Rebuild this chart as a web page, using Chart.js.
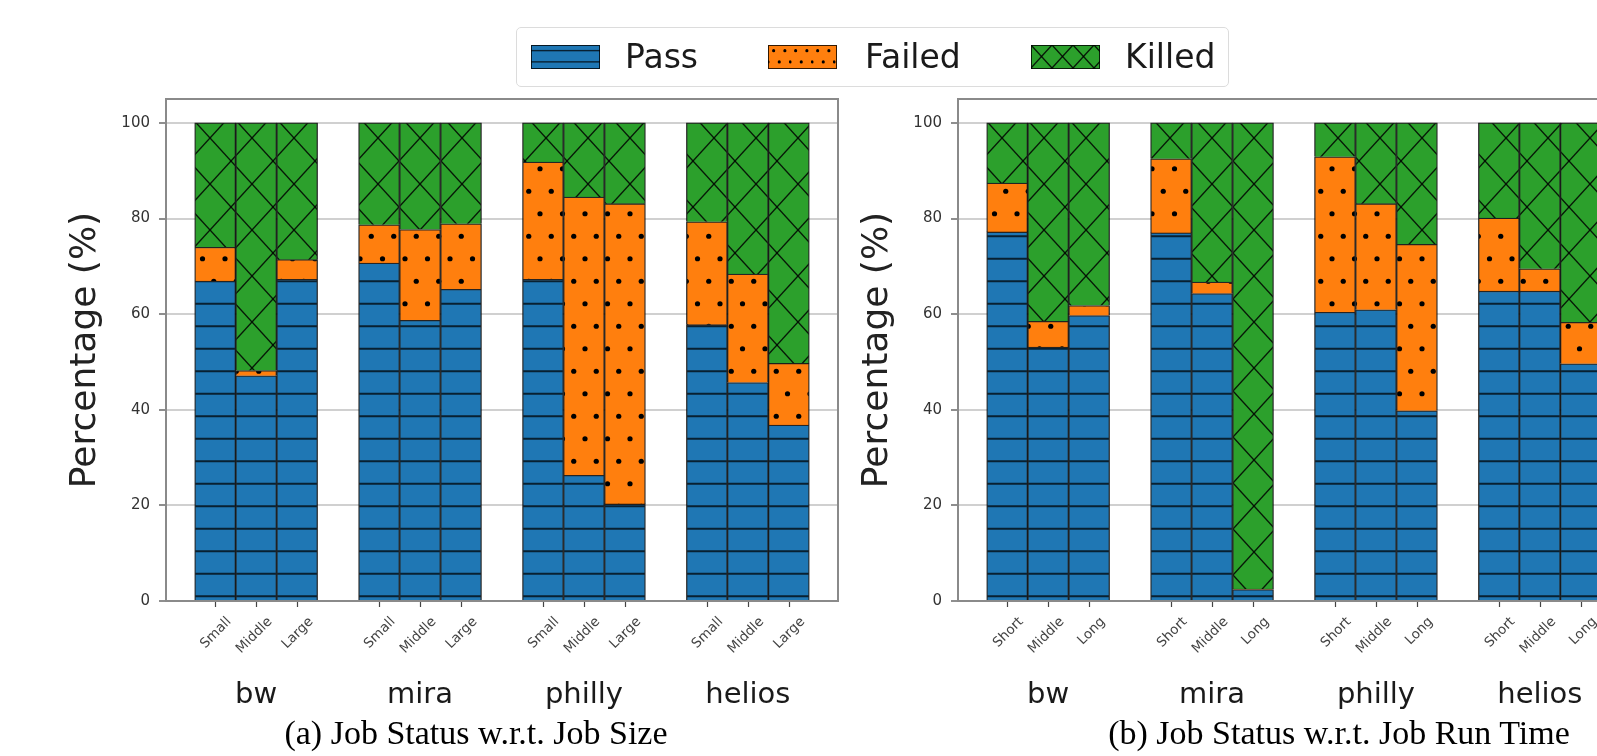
<!DOCTYPE html>
<html>
<head>
<meta charset="utf-8">
<script src="https://cdn.jsdelivr.net/npm/chart.js@4.4.1/dist/chart.umd.min.js"></script>
<style>
  html, body { margin: 0; padding: 0; background: #fff; overflow: hidden; width: 1597px; height: 756px; }
  body { position: relative; }
  #left, #right { position: absolute; top: 0; }
  #left { left: 0; }
  #right { left: 792px; }
  .legend { position: absolute; left: 516px; top: 27px; width: 713px; height: 60px; box-sizing: border-box;
            border: 1px solid #dcdcdc; border-radius: 5px; background: #fff; }
  .legend canvas { position: absolute; top: 17px; }
  .legend span { position: absolute; top: 0; font: 33px "DejaVu Sans"; line-height: 58px; color: #1a1a1a; }
  .sub { position: absolute; top: 713px; font: 34px "Liberation Serif"; line-height: 40px; color: #000;
         white-space: nowrap; transform: translateX(-50%); }
</style>
</head>
<body>
<canvas id="left" width="880" height="756"></canvas>
<canvas id="right" width="880" height="756"></canvas>
<div class="legend">
  <canvas id="lgPass" width="69" height="24" style="left:14px"></canvas><span style="left:108px">Pass</span>
  <canvas id="lgFailed" width="69" height="24" style="left:251px"></canvas><span style="left:348px">Failed</span>
  <canvas id="lgKilled" width="69" height="24" style="left:514px"></canvas><span style="left:608px">Killed</span>
</div>
<div class="sub" style="left:476px">(a) Job Status w.r.t. Job Size</div>
<div class="sub" style="left:1339px">(b) Job Status w.r.t. Job Run Time</div>
<script>
const groups = ['bw', 'mira', 'philly', 'helios'];
const sizeLabels = ['Small', 'Middle', 'Large'];
const timeLabels = ['Short', 'Middle', 'Long'];
const yTicks = [0, 20, 40, 60, 80, 100];

// (a) job size: bw S/M/L, mira S/M/L, philly S/M/L, helios S/M/L  (percent)
const sizePass   = [66.9, 47.1, 67.3, 70.7, 58.7, 65.2, 67.3, 26.3, 20.3, 57.8, 45.7, 36.8];
const sizeFailed = [7.1, 1.1, 4.1, 8.0, 19.0, 13.7, 24.5, 58.2, 62.8, 21.5, 22.7, 12.9];
const sizeKilled = [26.0, 51.8, 28.6, 21.3, 22.3, 21.1, 8.2, 15.5, 16.9, 20.7, 31.6, 50.3];

// (b) job run time: Short/Middle/Long per cluster
const timePass   = [77.2, 53.1, 59.7, 77.0, 64.3, 2.4, 60.4, 60.9, 39.8, 64.8, 64.8, 49.6];
const timeFailed = [10.2, 5.4, 2.1, 15.5, 2.4, 0.1, 32.5, 22.2, 34.8, 15.3, 4.7, 8.7];
const timeKilled = [12.6, 41.5, 38.2, 7.5, 33.3, 97.5, 7.1, 16.9, 25.4, 19.9, 30.5, 41.7];

// slot index on the x axis: 3 bars per cluster, one empty slot between clusters
const slots = [];
groups.forEach((g, gi) => [0, 1, 2].forEach(k => slots.push(gi * 4 + k)));

// matplotlib-like hatches: '-' , '.' , 'x'
function hatch(ctx, kind, k) {
  const c = document.createElement('canvas');
  const p = c.getContext('2d');
  if (kind === 'pass') {
    c.width = 45 * k; c.height = 45 * k;
    p.fillStyle = '#1f77b4'; p.fillRect(0, 0, c.width, c.height);
    p.strokeStyle = 'rgba(0,0,0,0.72)'; p.lineWidth = 2 * Math.max(k, 0.7);
    [11.25, 33.75].forEach(y => { p.beginPath(); p.moveTo(0, y * k); p.lineTo(c.width, y * k); p.stroke(); });
  } else if (kind === 'failed') {
    c.width = 45 * k; c.height = 45 * k;
    p.fillStyle = '#ff7f0e'; p.fillRect(0, 0, c.width, c.height);
    p.fillStyle = '#000';
    const dots = [[11.25, 11.25], [33.75, 11.25], [0, 33.75], [22.5, 33.75], [45, 33.75]];
    dots.forEach(([x, y]) => { p.beginPath(); p.arc(x * k, y * k, 2.6 * Math.max(k, 0.6), 0, Math.PI * 2); p.fill(); });
  } else {
    const w = 42 * k, h = 46 * k;
    c.width = w; c.height = h;
    p.fillStyle = '#2ca02c'; p.fillRect(0, 0, w, h);
    p.strokeStyle = 'rgba(0,0,0,0.85)'; p.lineWidth = 1.4;
    [-w, 0, w].forEach(dx => {
      p.beginPath(); p.moveTo(dx, 0); p.lineTo(dx + w, h); p.stroke();
      p.beginPath(); p.moveTo(dx + w, 0); p.lineTo(dx, h); p.stroke();
    });
  }
  return ctx.createPattern(c, 'repeat');
}

// legend patches
[['lgPass', 'pass'], ['lgFailed', 'failed'], ['lgKilled', 'killed']].forEach(([id, kind]) => {
  const cv = document.getElementById(id);
  const cx = cv.getContext('2d');
  cx.fillStyle = hatch(cx, kind, 0.5);
  cx.fillRect(0, 0, cv.width, cv.height);
  cx.strokeStyle = 'rgba(0,0,0,0.8)'; cx.lineWidth = 1;
  cx.strokeRect(0.5, 0.5, cv.width - 1, cv.height - 1);
});

const framePlugin = {
  id: 'frame',
  afterDraw(chart) {
    const { ctx, chartArea: a } = chart;
    const xs = chart.scales.x;
    ctx.save();
    // x tick marks under each bar
    ctx.strokeStyle = '#444';
    ctx.lineWidth = 1.2;
    slots.forEach(v => {
      const px = Math.round(xs.getPixelForValue(v)) + 0.5;
      ctx.beginPath(); ctx.moveTo(px, a.bottom); ctx.lineTo(px, a.bottom + 6); ctx.stroke();
    });
    ctx.strokeStyle = '#8a8a8a';
    ctx.lineWidth = 2;
    ctx.strokeRect(a.left, a.top, a.right - a.left, a.bottom - a.top);
    // cluster names under each group
    ctx.fillStyle = '#1a1a1a';
    ctx.font = '29px "DejaVu Sans"';
    ctx.textAlign = 'center';
    ctx.textBaseline = 'middle';
    groups.forEach((g, gi) => ctx.fillText(g, xs.getPixelForValue(slots[gi * 3 + 1]), 695));
    ctx.restore();
  }
};

function buildChart(id, subs, pass, failed, killed) {
  const ctx = document.getElementById(id).getContext('2d');
  return new Chart(ctx, {
    type: 'bar',
    data: {
      labels: slots,
      datasets: [
        { label: 'Pass', data: pass, backgroundColor: hatch(ctx, 'pass', 1) },
        { label: 'Failed', data: failed, backgroundColor: hatch(ctx, 'failed', 1) },
        { label: 'Killed', data: killed, backgroundColor: hatch(ctx, 'killed', 1) }
      ]
    },
    options: {
      responsive: false,
      animation: false,
      layout: { padding: { top: 99, right: 42, left: 0, bottom: 0 } },
      datasets: {
        bar: { barPercentage: 1, categoryPercentage: 1, borderColor: 'rgba(0,0,0,0.85)', borderWidth: 1.3 }
      },
      plugins: { legend: { display: false }, tooltip: { enabled: false } },
      scales: {
        x: {
          type: 'linear', stacked: true, min: -1.2, max: 15.2, offset: false,
          afterBuildTicks: s => { s.ticks = slots.map(v => ({ value: v })); },
          afterFit: s => { s.height = 155; },
          grid: { display: false },
          border: { display: false },
          ticks: {
            autoSkip: false, minRotation: 45, maxRotation: 45, padding: 5, labelOffset: 14,
            color: '#444', font: { family: 'DejaVu Sans', size: 13.5 },
            callback: (v, i) => subs[i % 3]
          }
        },
        y: {
          stacked: true, min: 0, max: 105, z: 1,
          afterBuildTicks: s => { s.ticks = yTicks.map(v => ({ value: v })); },
          afterFit: s => { s.width = 166; },
          grid: { color: 'rgba(176,176,176,0.6)', lineWidth: 2, tickLength: 7, tickColor: '#444', tickWidth: 1.2 },
          border: { display: false },
          ticks: { padding: 9, color: '#333', font: { family: 'DejaVu Sans', size: 15 } },
          title: {
            display: true, text: 'Percentage (%)', color: '#222',
            font: { family: 'DejaVu Sans', size: 36 }, padding: { top: 64 }
          }
        }
      }
    },
    plugins: [framePlugin]
  });
}

buildChart('left', sizeLabels, sizePass, sizeFailed, sizeKilled);
buildChart('right', timeLabels, timePass, timeFailed, timeKilled);
</script>
</body>
</html>
